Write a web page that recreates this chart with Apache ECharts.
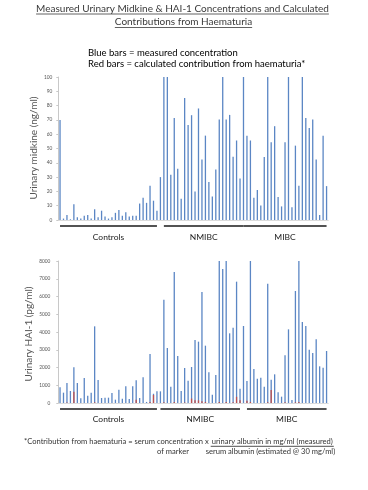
<!DOCTYPE html>
<html><head><meta charset="utf-8">
<script src="https://cdn.jsdelivr.net/npm/echarts@6/dist/echarts.min.js"></script>
<style>html,body{margin:0;padding:0;background:#fff}#c{width:368px;height:490px}</style>
</head><body><div id="c"></div>
<script>
// ---------- data ----------
const sampleCount = 78;
const categories = Array.from({length: sampleCount}, (_, i) => 'S' + (i + 1));
const midkineMeasured = [70,1,3.5,0.5,11,2,1,3,3.5,1,7.5,2,6.5,2.5,1,2,5,7,3,5.5,2.5,3,3,11.5,15.5,12,24,13.5,6.5,30,
  100,100,31.6,71.4,35.8,14.9,85.3,66.5,73.3,20,78,42.3,59,26.5,16.5,35.3,70.2,100,70.2,73.5,44.2,55.6,29,
  100,59,55.6,15.6,21,10.2,44,100,54.4,65.6,16,9.5,54.4,100,9,52,24,100,71.4,64.4,70.2,42.3,3.5,59,23.7];
const hai1Measured = [883,582,1127,676,2009,1127,263,1408,413,582,4319,1296,282,300,300,563,188,751,244,939,225,939,1277,282,1446,60,2761,520,
  657,657,5822,3099,920,7380,2648,676,1972,1258,2028,3549,3455,6254,3230,1728,469,1577,8000,7549,8000,3925,4244,6836,808,4338,1239,8000,1915,1371,1427,920,
  6723,1315,1615,601,357,2685,4150,169,6310,8000,4563,4338,3005,2817,3587,2066,1991,2930];
const hai1Haematuria = [0,0,30,0,640,0,0,0,0,0,40,0,0,0,0,0,0,0,0,0,0,0,188,0,0,0,60,450,
  0,0,40,0,0,50,0,0,30,0,250,150,150,100,60,0,0,0,60,0,60,0,40,350,150,0,120,60,0,0,0,0,
  40,732,0,0,0,40,0,0,40,60,0,0,0,0,0,0,0,0];
const midkineTicks = {min: 0, max: 100, interval: 10};
const hai1Ticks = {min: 0, max: 8000, interval: 1000};
const groupNames = ['Controls', 'NMIBC', 'MIBC'];
const groupRanges = [[0, 28.3], [29.9, 52.5], [53.4, 77]];
const hai1GroupRanges = [[-0.3, 27.7], [29.0, 52.4], [53.6, 76.8]];
const titleLines = ['Measured Urinary Midkine & HAI-1 Concentrations and Calculated', 'Contributions from Haematuria'];
const legendLines = ['Blue bars = measured concentration', 'Red bars = calculated contribution from haematuria*'];

// ---------- helpers ----------
const FAM = 'Lato, "Open Sans", sans-serif';
const ctx = document.createElement('canvas').getContext('2d');
function textW(t, size) { ctx.font = size + 'px ' + FAM; return ctx.measureText(t).width; }
function fit(t, w) { return +(10 * w / textW(t, 10)).toFixed(2); }

const BLUE = '#5b86c4';
const RED = '#c0504d';

function groupSeries(xi, ranges, lineOff, labelOff) {
  return {
    type: 'custom', xAxisIndex: xi, yAxisIndex: xi, clip: false, silent: true, z: 5,
    data: ranges.map(r => [r[0], r[1], 0]),
    encode: {x: [0, 1], y: 2},
    renderItem(params, api) {
      const p0 = api.coord([api.value(0), 0]);
      const p1 = api.coord([api.value(1), 0]);
      const name = groupNames[params.dataIndex];
      return {type: 'group', children: [
        {type: 'line', shape: {x1: p0[0], y1: p0[1] + lineOff, x2: p1[0], y2: p1[1] + lineOff},
          style: {stroke: '#1a1a1a', lineWidth: 1.4}},
        {type: 'text', style: {text: name, x: (p0[0] + p1[0]) / 2, y: p0[1] + labelOff,
          align: 'center', verticalAlign: 'middle', fill: '#222',
          font: fit('Controls', 31.5) + 'px ' + FAM}}
      ]};
    }
  };
}

const yAxisCommon = {
  type: 'value', splitLine: {show: false},
  axisLine: {show: true, lineStyle: {color: '#c8c8c8', width: 1}},
  axisTick: {show: true, length: 2, lineStyle: {color: '#c8c8c8'}},
  axisLabel: {fontSize: 4.8, color: '#555', fontFamily: FAM, formatter: v => String(v)}
};
const xAxisCommon = {
  type: 'category', data: categories,
  axisLine: {show: true, lineStyle: {color: '#dcdcdc', width: 1}},
  axisTick: {show: false}, axisLabel: {show: false}
};

const t1 = fit(titleLines[0], 293);
const lg = fit(legendLines[0], 150);
const fnA = '*Contribution from haematuria = serum concentration x';
const fnB = 'urinary albumin in mg/ml (measured)';
const fnC = 'serum albumin (estimated @ 30 mg/ml)';
const fs = Math.min(fit(fnA, 185), fit(fnB, 131));
const wA = textW(fnA, fs);
const wB = textW(fnB, fs);
const xB = 24 + wA + 3;
const yn1 = fit('Urinary midkine (ng/ml)', 103);
const yn2 = fit('Urinary HAI-1 (pg/ml)', 95);
const w1 = textW(titleLines[0], t1), w2 = textW(titleLines[1], t1);

const chart = echarts.init(document.getElementById('c'), null, {renderer: 'canvas'});
chart.setOption({
  animation: false,
  backgroundColor: '#fff',
  grid: [
    {left: 58.3, width: 270, top: 77, height: 143},
    {left: 58.3, width: 270, top: 261, height: 142}
  ],
  xAxis: [Object.assign({gridIndex: 0}, xAxisCommon), Object.assign({gridIndex: 1}, xAxisCommon)],
  yAxis: [
    Object.assign({gridIndex: 0}, yAxisCommon, midkineTicks, {axisLabel: Object.assign({}, yAxisCommon.axisLabel, {margin: 6})}),
    Object.assign({gridIndex: 1}, yAxisCommon, hai1Ticks, {axisLabel: Object.assign({}, yAxisCommon.axisLabel, {margin: 8})})
  ],
  series: [
    {type: 'bar', xAxisIndex: 0, yAxisIndex: 0, data: midkineMeasured, barWidth: 1.3, itemStyle: {color: BLUE}},
    {type: 'bar', xAxisIndex: 1, yAxisIndex: 1, data: hai1Measured, barWidth: 1.3, itemStyle: {color: BLUE}},
    {type: 'bar', xAxisIndex: 1, yAxisIndex: 1, data: hai1Haematuria, barWidth: 1.3, barGap: '-100%', z: 3, itemStyle: {color: RED}},
    groupSeries(0, groupRanges, 6, 17),
    groupSeries(1, hai1GroupRanges, 6, 16)
  ],
  graphic: [
    {type: 'text', left: 182.5 - w1 / 2, top: 4, style: {text: titleLines[0], font: t1 + 'px ' + FAM, fill: '#3a3a3a'}},
    {type: 'line', shape: {x1: 182.5 - w1 / 2, y1: 14, x2: 182.5 + w1 / 2, y2: 14}, style: {stroke: '#3a3a3a', lineWidth: 0.8}},
    {type: 'text', left: 183.5 - w2 / 2, top: 17, style: {text: titleLines[1], font: t1 + 'px ' + FAM, fill: '#3a3a3a'}},
    {type: 'line', shape: {x1: 183.5 - w2 / 2, y1: 27.5, x2: 183.5 + w2 / 2, y2: 27.5}, style: {stroke: '#3a3a3a', lineWidth: 0.8}},
    {type: 'text', left: 88, top: 47.5, style: {text: legendLines[0], font: lg + 'px ' + FAM, fill: '#000'}},
    {type: 'text', left: 88, top: 58.5, style: {text: legendLines[1], font: lg + 'px ' + FAM, fill: '#000'}},
    {type: 'text', x: 33.5, y: 148, rotation: Math.PI / 2, style: {text: 'Urinary midkine (ng/ml)', font: yn1 + 'px ' + FAM, fill: '#555', align: 'center', verticalAlign: 'middle'}},
    {type: 'text', x: 29, y: 334, rotation: Math.PI / 2, style: {text: 'Urinary HAI-1 (pg/ml)', font: yn2 + 'px ' + FAM, fill: '#555', align: 'center', verticalAlign: 'middle'}},
    {type: 'text', left: 24, top: 437.5, style: {text: fnA, font: fs + 'px ' + FAM, fill: '#333'}},
    {type: 'text', left: xB, top: 437.5, style: {text: fnB, font: fs + 'px ' + FAM, fill: '#333'}},
    {type: 'line', shape: {x1: xB - 1, y1: 446.3, x2: xB + wB + 1, y2: 446.3}, style: {stroke: '#222', lineWidth: 0.8}},
    {type: 'text', left: 157, top: 447.5, style: {text: 'of marker', font: fs + 'px ' + FAM, fill: '#333'}},
    {type: 'text', left: xB - 6, top: 447.5, style: {text: fnC, font: fs + 'px ' + FAM, fill: '#333'}}
  ]
});
</script></body></html>
